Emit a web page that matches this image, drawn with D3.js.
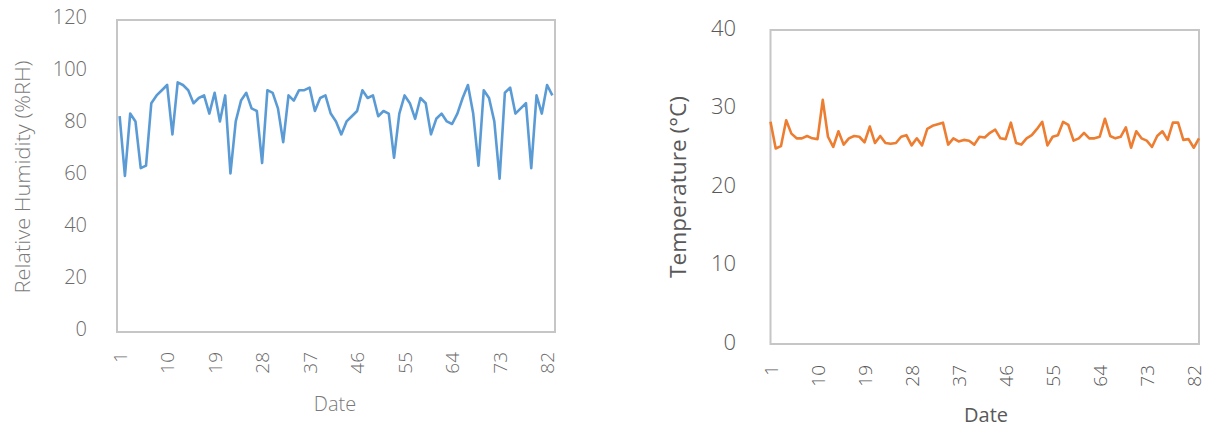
<!DOCTYPE html>
<html>
<head>
<meta charset="utf-8">
<script src="https://cdn.jsdelivr.net/npm/d3@7"></script>
<style>
  html, body { margin: 0; padding: 0; background: #fff; }
  svg { display: block; }
  text { font-family: "Open Sans", "Noto Sans", sans-serif; }
</style>
</head>
<body>
<svg id="chart" width="1210" height="427"></svg>
<script>
// ---------- data ----------
const days = d3.range(1, 84); // 83 daily observations
const humidity = [
  83, 60, 84, 81, 63, 64, 88, 91, 93, 95,
  76, 96, 95, 93, 88, 90, 91, 84, 92, 81,
  91, 61, 81, 89, 92, 86, 85, 65, 93, 92,
  86, 73, 91, 89, 93, 93, 94, 85, 90, 91,
  84, 81, 76, 81, 83, 85, 93, 90, 91, 83,
  85, 84, 67, 84, 91, 88, 82, 90, 88, 76,
  82, 84, 81, 80, 84, 90, 95, 84, 64, 93,
  90, 81, 59, 92, 94, 84, 86, 88, 63, 91,
  84, 95, 91
];
const temperature = [
  28.3, 24.9, 25.2, 28.5, 26.8, 26.2, 26.2, 26.5, 26.2, 26.1,
  31.1, 26.4, 25.1, 27.1, 25.4, 26.2, 26.5, 26.4, 25.7, 27.7,
  25.6, 26.5, 25.6, 25.5, 25.6, 26.4, 26.6, 25.3, 26.2, 25.3,
  27.4, 27.8, 28.0, 28.2, 25.4, 26.2, 25.8, 26.0, 25.9, 25.4,
  26.4, 26.3, 26.9, 27.3, 26.2, 26.1, 28.2, 25.6, 25.4, 26.2,
  26.6, 27.4, 28.3, 25.3, 26.4, 26.6, 28.3, 27.9, 25.9, 26.2,
  26.9, 26.2, 26.2, 26.4, 28.7, 26.5, 26.2, 26.4, 27.6, 25.0,
  27.1, 26.2, 25.9, 25.1, 26.5, 27.1, 26.0, 28.2, 28.2, 26.0,
  26.1, 25.0, 26.2
];
const xTickLabels = [1, 10, 19, 28, 37, 46, 55, 64, 73, 82];
const rhTicks = [0, 20, 40, 60, 80, 100, 120];
const tempTicks = [0, 10, 20, 30, 40];

const svg = d3.select("#chart");

function drawPanel(opt) {
  const g = svg.append("g");
  const x = d3.scalePoint().domain(days).range([opt.left, opt.right]).padding(opt.pad);
  const y = d3.scaleLinear().domain(opt.yDomain).range([opt.bottom, opt.top]);

  // plot area border
  g.append("rect")
    .attr("x", opt.left).attr("y", opt.top)
    .attr("width", opt.right - opt.left).attr("height", opt.bottom - opt.top)
    .attr("fill", "none").attr("stroke", "#c6c6c6").attr("stroke-width", 2);

  // y axis labels
  const yAxis = d3.axisLeft(y).tickValues(opt.yTicks).tickSize(0).tickPadding(0);
  const ya = g.append("g").attr("transform", `translate(${opt.yLabelX},${opt.yLabelDy})`).call(yAxis);
  ya.select(".domain").remove();
  ya.selectAll("text")
    .attr("font-family", '"Open Sans", sans-serif')
    .attr("font-size", opt.yFont).attr("font-weight", 300)
    .attr("fill", opt.textColor);

  // x axis labels (rotated)
  const xAxis = d3.axisBottom(x).tickValues(xTickLabels).tickSize(0).tickPadding(0);
  const xa = g.append("g").attr("transform", `translate(0,${opt.xLabelY})`).call(xAxis);
  xa.select(".domain").remove();
  xa.selectAll("text")
    .attr("font-family", '"Open Sans", sans-serif')
    .attr("font-size", opt.xFont).attr("font-weight", 300)
    .attr("fill", opt.textColor)
    .attr("transform", "rotate(-90)")
    .attr("text-anchor", "end")
    .attr("x", 0).attr("y", 0)
    .attr("dy", "0.35em");

  // line
  const line = d3.line().x((d, i) => x(days[i])).y(d => y(d));
  g.append("path").datum(opt.values)
    .attr("d", line)
    .attr("fill", "none")
    .attr("stroke", opt.color)
    .attr("stroke-width", 2.6)
    .attr("stroke-linejoin", "round");

  // axis titles
  g.append("text")
    .attr("transform", `translate(${opt.yTitleX},${opt.yTitleY}) rotate(-90)`)
    .attr("text-anchor", "middle").attr("dy", "0.35em")
    .attr("font-size", opt.yTitleFont).attr("font-weight", opt.titleWeight)
    .attr("textLength", opt.yTitleLen).attr("lengthAdjust", "spacingAndGlyphs")
    .attr("fill", opt.titleColor)
    .text(opt.yTitle);
  g.append("text")
    .attr("x", opt.xTitleX).attr("y", opt.xTitleY)
    .attr("text-anchor", "middle").attr("dy", "0.35em")
    .attr("font-size", opt.xTitleFont).attr("font-weight", opt.titleWeight)
    .attr("fill", opt.titleColor)
    .text("Date");
}

drawPanel({
  left: 117, right: 555, top: 20, bottom: 332, pad: 0.5,
  yDomain: [0, 120], yTicks: rhTicks,
  yLabelX: 87, yLabelDy: -3, yFont: 20,
  xLabelY: 352, xFont: 19,
  textColor: "#6b6b6b",
  color: "#5b9bd5", values: humidity,
  yTitle: "Relative Humidity (%RH)", yTitleX: 23, yTitleY: 177, yTitleFont: 21, yTitleLen: 233,
  xTitleX: 335, xTitleY: 404, xTitleFont: 20,
  titleWeight: 300, titleColor: "#7a7a7a"
});

drawPanel({
  left: 770.5, right: 1199, top: 30, bottom: 344, pad: 0,
  yDomain: [0, 40], yTicks: tempTicks,
  yLabelX: 736, yLabelDy: -2, yFont: 22,
  xLabelY: 365, xFont: 19,
  textColor: "#595959",
  color: "#ed7d31", values: temperature,
  yTitle: "Temperature (°C)", yTitleX: 679, yTitleY: 187, yTitleFont: 21, yTitleLen: 182,
  xTitleX: 986, xTitleY: 415, xTitleFont: 20,
  titleWeight: 400, titleColor: "#595959"
});
</script>
</body>
</html>
